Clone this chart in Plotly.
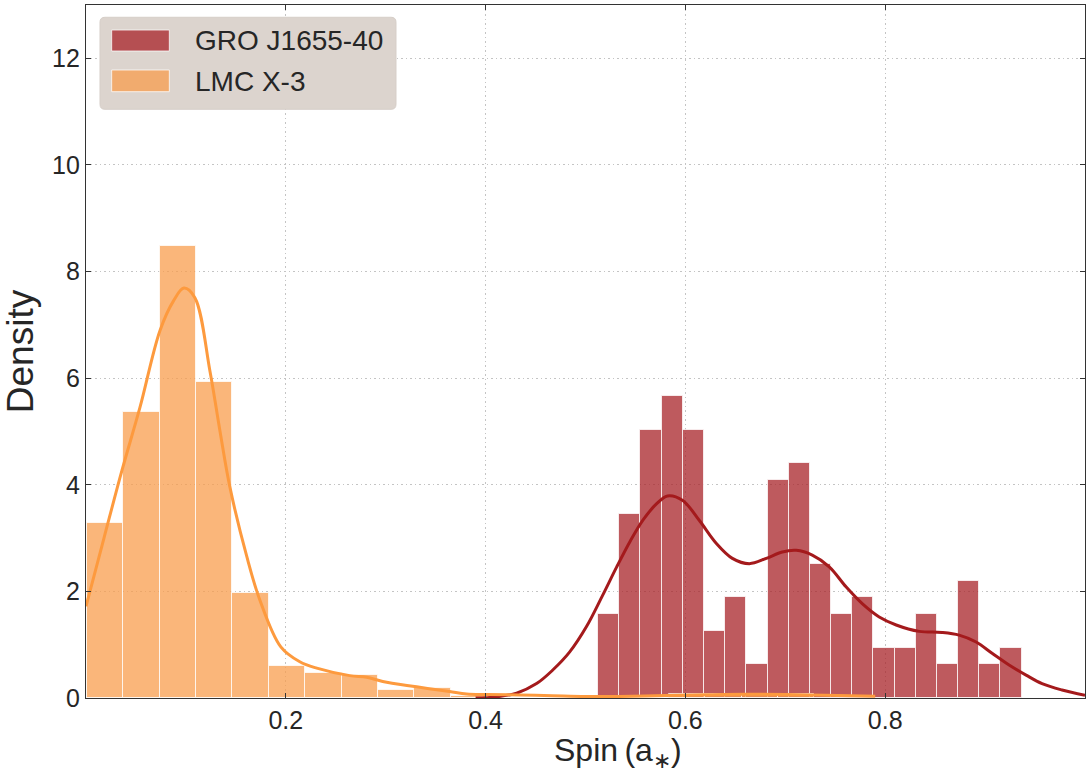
import numpy as np
import plotly.graph_objects as go

# ---- Histogram densities (per bin) ----
# GRO J1655-40: 20 bins of equal width starting at 0.5126
gro_bin_start = 0.5126
gro_bin_width = 0.0212
gro_density = [1.57, 3.46, 5.03, 5.66, 5.03, 1.26, 1.89, 0.63, 4.09, 4.40,
               2.52, 1.57, 1.89, 0.94, 0.94, 1.57, 0.63, 2.20, 0.63, 0.94]

# LMC X-3: bins of equal width starting at 0.001
lmc_bin_start = 0.001
lmc_bin_width = 0.0364
lmc_density = [3.28, 5.37, 8.48, 5.93, 1.97, 0.60, 0.47, 0.44, 0.155, 0.19,
               0.04, 0.0, 0.0, 0.0, 0.0, 0.0, 0.075, 0.075, 0.075, 0.075]

# ---- Kernel density curves ----
gro_kde_x = [0.39, 0.41, 0.431, 0.451, 0.467, 0.484, 0.501, 0.517, 0.531, 0.545,
             0.558, 0.571, 0.582, 0.597, 0.614, 0.631, 0.647, 0.664, 0.681, 0.697,
             0.711, 0.727, 0.744, 0.761, 0.777, 0.794, 0.811, 0.834, 0.857, 0.874,
             0.891, 0.907, 0.924, 0.941, 0.957, 0.977, 1.0]
gro_kde_y = [0.0, 0.02, 0.09, 0.27, 0.52, 0.86, 1.34, 1.92, 2.45, 2.95,
             3.35, 3.64, 3.79, 3.71, 3.33, 2.90, 2.62, 2.52, 2.62, 2.74,
             2.77, 2.68, 2.46, 2.08, 1.77, 1.52, 1.37, 1.25, 1.23, 1.18,
             1.05, 0.84, 0.62, 0.43, 0.27, 0.15, 0.05]

lmc_kde_x = [0.0, 0.018, 0.036, 0.054, 0.074, 0.0876, 0.098, 0.109, 0.124, 0.134,
             0.144, 0.161, 0.174, 0.195, 0.214, 0.231, 0.264, 0.281, 0.297, 0.331,
             0.364, 0.381, 0.401, 0.434, 0.467, 0.50, 0.534, 0.58, 0.62, 0.66,
             0.70, 0.74, 0.79]
lmc_kde_y = [1.72, 3.0, 4.27, 5.45, 6.89, 7.45, 7.69, 7.51, 6.14, 5.02,
             3.96, 2.65, 1.84, 0.96, 0.68, 0.56, 0.42, 0.39, 0.31, 0.21,
             0.12, 0.075, 0.065, 0.056, 0.043, 0.03, 0.03, 0.045, 0.06, 0.07,
             0.065, 0.05, 0.035]

series_names = ["GRO J1655-40", "LMC X-3"]
x_tickvals = [0.2, 0.4, 0.6, 0.8]
y_tickvals = [0, 2, 4, 6, 8, 10, 12]

GRO_BAR = "rgba(168,35,40,0.75)"
LMC_BAR = "rgba(248,158,78,0.75)"
GRO_LINE = "#A41A1C"
LMC_LINE = "#FD9A3E"
EDGE = "rgba(255,255,255,0.75)"
FONT = "Liberation Sans, Arial, Helvetica, sans-serif"
TEXT = "#262626"


def centers(start, width, n):
    return [start + width * (i + 0.5) for i in range(n)]


fig = go.Figure()

fig.add_trace(go.Bar(
    x=centers(gro_bin_start, gro_bin_width, len(gro_density)), y=gro_density,
    width=gro_bin_width, marker=dict(color=GRO_BAR, line=dict(color=EDGE, width=1)),
    name=series_names[0], showlegend=False,
))
fig.add_trace(go.Bar(
    x=centers(lmc_bin_start, lmc_bin_width, len(lmc_density)), y=lmc_density,
    width=lmc_bin_width, marker=dict(color=LMC_BAR, line=dict(color=EDGE, width=1)),
    name=series_names[1], showlegend=False,
))
fig.add_trace(go.Scatter(
    x=gro_kde_x, y=gro_kde_y, mode="lines",
    line=dict(color=GRO_LINE, width=3, shape="spline", smoothing=1.0),
    showlegend=False, hoverinfo="skip",
))
fig.add_trace(go.Scatter(
    x=lmc_kde_x, y=lmc_kde_y, mode="lines",
    line=dict(color=LMC_LINE, width=3, shape="spline", smoothing=1.0),
    showlegend=False, hoverinfo="skip",
))

axis_common = dict(
    showline=True, mirror="ticks", linecolor="#333333", linewidth=1.3,
    ticks="inside", ticklen=5, tickwidth=1.2, tickcolor="#333333",
    showgrid=True, gridcolor="#C4C4C4", griddash="1.5px,3px", gridwidth=1.2,
    zeroline=False,
    tickfont=dict(family=FONT, size=25, color=TEXT),
)

fig.update_xaxes(range=[0.0, 1.0], tickvals=x_tickvals,
                 ticktext=[f"{v:.1f}" for v in x_tickvals], **axis_common)
fig.update_yaxes(range=[0, 13], tickvals=y_tickvals,
                 ticktext=[str(v) for v in y_tickvals],
                 title=dict(text="Density", font=dict(family=FONT, size=37, color=TEXT),
                            standoff=8),
                 **axis_common)

# ---- Legend box drawn in plot-area (paper) coordinates ----
x0, x1, y0, y1 = 0.0140, 0.3103, 0.8495, 0.9823
rx, ry = 0.005, 0.0072
legend_path = (
    f"M {x0+rx},{y0} L {x1-rx},{y0} Q {x1},{y0} {x1},{y0+ry} "
    f"L {x1},{y1-ry} Q {x1},{y1} {x1-rx},{y1} "
    f"L {x0+rx},{y1} Q {x0},{y1} {x0},{y1-ry} "
    f"L {x0},{y0+ry} Q {x0},{y0} {x0+rx},{y0} Z"
)
shapes = [dict(type="path", path=legend_path, xref="paper", yref="paper",
               fillcolor="#DCD4CE", line=dict(color="#D6CEC8", width=1), layer="above")]
patch_rows = [(0.9336, 0.9639, GRO_BAR), (0.8749, 0.9062, LMC_BAR)]
for (py0, py1, col) in patch_rows:
    shapes.append(dict(type="rect", xref="paper", yref="paper",
                       x0=0.0257, x1=0.0834, y0=py0, y1=py1,
                       fillcolor=col, line=dict(color=EDGE, width=1), layer="above"))

annotations = []
for name, yc in zip(series_names, [0.9488, 0.8896]):
    annotations.append(dict(text=name, xref="paper", yref="paper", x=0.1068, y=yc,
                            xanchor="left", yanchor="middle", showarrow=False,
                            font=dict(family=FONT, size=28, color=TEXT)))

# x-axis title
annotations.append(dict(text="Spin\u2009(a<sub>\u2217</sub>)", xref="paper", yref="paper",
                        x=0.5325, y=-0.078, xanchor="center", yanchor="middle",
                        showarrow=False,
                        font=dict(family=FONT, size=32, color=TEXT)))

fig.update_layout(
    width=1090, height=773,
    margin=dict(l=86, r=5, t=5, b=75),
    paper_bgcolor="white", plot_bgcolor="white",
    barmode="overlay", bargap=0,
    shapes=shapes, annotations=annotations,
    showlegend=False,
)

fig.write_html("out.html")
